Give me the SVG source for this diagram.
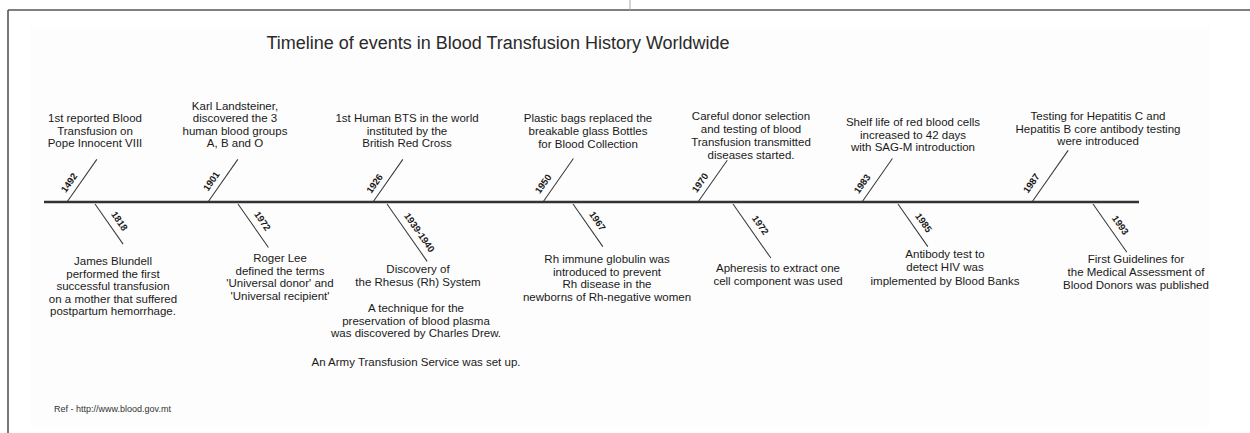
<svg xmlns="http://www.w3.org/2000/svg" width="1250" height="433" viewBox="0 0 1250 433">
<style>
.t{font-family:"Liberation Sans",Arial,sans-serif;font-size:11.5px;fill:#1a1a1a;text-anchor:middle}
.ttl{font-family:"Liberation Sans",Arial,sans-serif;font-size:18px;fill:#2a2a2a;text-anchor:middle}
.y{font-family:"Liberation Sans",Arial,sans-serif;font-size:9.5px;font-weight:bold;fill:#1a1a1a;text-anchor:middle}
.ref{font-family:"Liberation Sans",Arial,sans-serif;font-size:9px;fill:#333;text-anchor:start}
.tick{stroke:#333;stroke-width:1;fill:none}
.axis{stroke:#333;stroke-width:2.5;fill:none}
.frame{stroke:#555;stroke-width:1.6;fill:none}
</style>
<rect x="0" y="0" width="1250" height="433" fill="#ffffff"/>
<rect x="30" y="27" width="1180" height="400" fill="#fdfdfd"/>
<g id="frame">
<line class="frame" x1="8" y1="10" x2="1250" y2="10"/>
<line class="frame" x1="8" y1="10" x2="8" y2="433"/>
<line x1="630" y1="0" x2="630" y2="10" stroke="#aaa" stroke-width="1"/>
</g>
<text id="title" class="ttl" x="498" y="49">Timeline of events in Blood Transfusion History Worldwide</text>
<g id="connectors">
<line id="axis" class="axis" x1="44" y1="202" x2="1139" y2="202"/>
<g transform="translate(67,202) rotate(-55)"><line class="tick" x1="0" y1="0" x2="52" y2="0"/></g>
<g transform="translate(208,202) rotate(-55)"><line class="tick" x1="0" y1="0" x2="52" y2="0"/></g>
<g transform="translate(373,202) rotate(-55)"><line class="tick" x1="0" y1="0" x2="52" y2="0"/></g>
<g transform="translate(543,202) rotate(-55)"><line class="tick" x1="0" y1="0" x2="53" y2="0"/></g>
<g transform="translate(698,202) rotate(-55)"><line class="tick" x1="0" y1="0" x2="51" y2="0"/></g>
<g transform="translate(862,202) rotate(-55)"><line class="tick" x1="0" y1="0" x2="53" y2="0"/></g>
<g transform="translate(1032,202) rotate(-55)"><line class="tick" x1="0" y1="0" x2="63" y2="0"/></g>
<g transform="translate(95,204) rotate(55)"><line class="tick" x1="0" y1="0" x2="49" y2="0"/></g>
<g transform="translate(238,204) rotate(55)"><line class="tick" x1="0" y1="0" x2="53" y2="0"/></g>
<g transform="translate(387,204) rotate(55)"><line class="tick" x1="0" y1="0" x2="70" y2="0"/></g>
<g transform="translate(573,204) rotate(55)"><line class="tick" x1="0" y1="0" x2="52" y2="0"/></g>
<g transform="translate(733,204) rotate(55)"><line class="tick" x1="0" y1="0" x2="66" y2="0"/></g>
<g transform="translate(898,204) rotate(55)"><line class="tick" x1="0" y1="0" x2="52" y2="0"/></g>
<g transform="translate(1093,204) rotate(55)"><line class="tick" x1="0" y1="0" x2="59" y2="0"/></g>
</g>
<g id="e1492">
<text class="y" transform="translate(67,202) rotate(-55)" x="17" y="-6">1492</text>
<text class="t" x="95" y="122">1st reported Blood</text>
<text class="t" x="95" y="134.5">Transfusion on</text>
<text class="t" x="95" y="147">Pope Innocent VIII</text>
</g>
<g id="e1901">
<text class="y" transform="translate(208,202) rotate(-55)" x="19" y="-6">1901</text>
<text class="t" x="235" y="110">Karl Landsteiner,</text>
<text class="t" x="235" y="122">discovered the 3</text>
<text class="t" x="235" y="134.5">human blood groups</text>
<text class="t" x="235" y="147">A, B and O</text>
</g>
<g id="e1926">
<text class="y" transform="translate(373,202) rotate(-55)" x="16" y="-6">1926</text>
<text class="t" x="407" y="122">1st Human BTS in the world</text>
<text class="t" x="407" y="134.5">instituted by the</text>
<text class="t" x="407" y="147">British Red Cross</text>
</g>
<g id="e1950">
<text class="y" transform="translate(543,202) rotate(-55)" x="15" y="-7">1950</text>
<text class="t" x="588" y="122">Plastic bags replaced the</text>
<text class="t" x="588" y="134.5">breakable glass Bottles</text>
<text class="t" x="588" y="147.5">for Blood Collection</text>
</g>
<g id="e1970">
<text class="y" transform="translate(698,202) rotate(-55)" x="17" y="-6">1970</text>
<text class="t" x="751" y="120">Careful donor selection</text>
<text class="t" x="751" y="132.5">and testing of blood</text>
<text class="t" x="751" y="145.5">Transfusion transmitted</text>
<text class="t" x="751" y="158.5">diseases started.</text>
</g>
<g id="e1983">
<text class="y" transform="translate(862,202) rotate(-55)" x="15" y="-7">1983</text>
<text class="t" x="913" y="126">Shelf life of red blood cells</text>
<text class="t" x="913" y="138.5">increased to 42 days</text>
<text class="t" x="913" y="151">with SAG-M introduction</text>
</g>
<g id="e1987">
<text class="y" transform="translate(1032,202) rotate(-55)" x="15" y="-8">1987</text>
<text class="t" x="1098" y="120">Testing for Hepatitis C and</text>
<text class="t" x="1098" y="132.5">Hepatitis B core antibody testing</text>
<text class="t" x="1098" y="145">were introduced</text>
</g>
<g id="e1818">
<text class="y" transform="translate(95,204) rotate(55)" x="28" y="-7">1818</text>
<text class="t" x="113" y="265">James Blundell</text>
<text class="t" x="113" y="277.5">performed the first</text>
<text class="t" x="113" y="290">successful transfusion</text>
<text class="t" x="113" y="302.5">on a mother that suffered</text>
<text class="t" x="113" y="315">postpartum hemorrhage.</text>
</g>
<g id="e1972a">
<text class="y" transform="translate(238,204) rotate(55)" x="28" y="-7">1972</text>
<text class="t" x="280" y="262">Roger Lee</text>
<text class="t" x="280" y="274.5">defined the terms</text>
<text class="t" x="280" y="287">'Universal donor' and</text>
<text class="t" x="280" y="299.5">'Universal recipient'</text>
</g>
<g id="e1939">
<text class="y" transform="translate(387,204) rotate(55)" x="42" y="-7">1939-1940</text>
<text class="t" x="418" y="273">Discovery of</text>
<text class="t" x="418" y="285.5">the Rhesus (Rh) System</text>
<text class="t" x="416" y="312">A technique for the</text>
<text class="t" x="416" y="324.5">preservation of blood plasma</text>
<text class="t" x="416" y="337">was discovered by Charles Drew.</text>
<text class="t" x="416" y="366">An Army Transfusion Service was set up.</text>
</g>
<g id="e1967">
<text class="y" transform="translate(573,204) rotate(55)" x="28" y="-7">1967</text>
<text class="t" x="607" y="263">Rh immune globulin was</text>
<text class="t" x="607" y="275.5">introduced to prevent</text>
<text class="t" x="607" y="288">Rh disease in the</text>
<text class="t" x="607" y="301">newborns of Rh-negative women</text>
</g>
<g id="e1972b">
<text class="y" transform="translate(733,204) rotate(55)" x="33" y="-7">1972</text>
<text class="t" x="778" y="272">Apheresis to extract one</text>
<text class="t" x="778" y="284.5">cell component was used</text>
</g>
<g id="e1985">
<text class="y" transform="translate(898,204) rotate(55)" x="30" y="-7">1985</text>
<text class="t" x="945" y="258">Antibody test to</text>
<text class="t" x="945" y="271">detect HIV was</text>
<text class="t" x="945" y="284.5">implemented by Blood Banks</text>
</g>
<g id="e1993">
<text class="y" transform="translate(1093,204) rotate(55)" x="33" y="-7">1993</text>
<text class="t" x="1136" y="263">First Guidelines for</text>
<text class="t" x="1136" y="276">the Medical Assessment of</text>
<text class="t" x="1136" y="289">Blood Donors was published</text>
</g>
<text id="ref" class="ref" x="54" y="412">Ref - http://www.blood.gov.mt</text>
</svg>
